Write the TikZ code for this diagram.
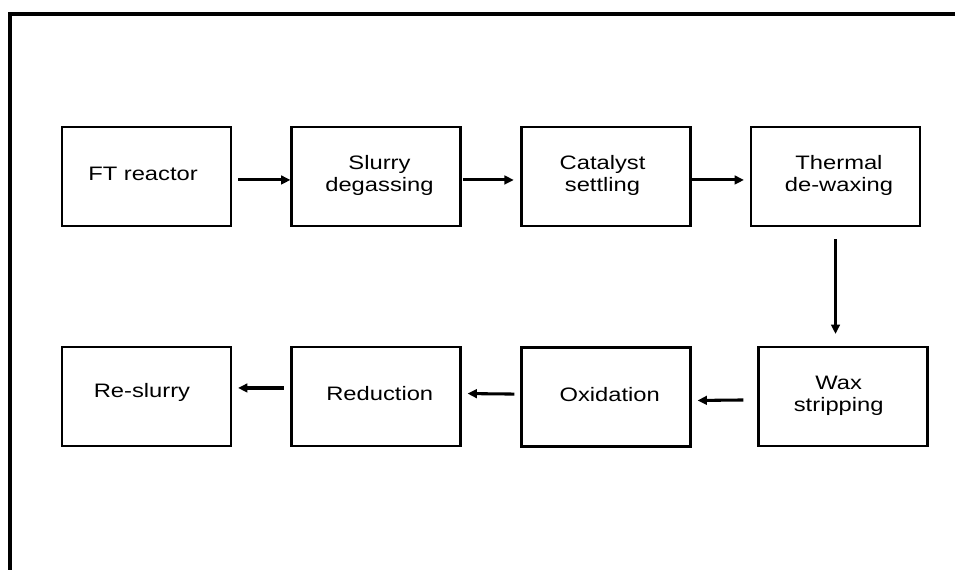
\documentclass[tikz,border=0pt]{standalone}
\usepackage{fontspec}
\setmainfont{Liberation Sans}[FakeStretch=1.22]
\usetikzlibrary{arrows.meta}
\newcommand{\bt}[3]{\kern#1\raisebox{#2}{\begin{tabular}{@{}c@{}}#3\end{tabular}}}
\begin{document}
\begin{tikzpicture}[x=0.75pt,y=-0.75pt,
  box/.style={draw,line width=1.6pt,minimum width=126.75pt,minimum height=74.25pt,inner sep=0pt,
    font=\fontsize{14.6pt}{16.3pt}\selectfont},
  arr/.style={line width=2.3pt,-{Triangle[length=7pt,width=6.5pt]}},
  frame/.style={line width=3pt}]
\useasboundingbox (0,0) rectangle (955,570);
\coordinate (fa) at (10,570);
\coordinate (fb) at (10,14);
\coordinate (fc) at (955,14);
\draw[frame] (fa) -- (fb) -- (fc);
\node[box] (ft) at (146.5,176.5) {\bt{-5.2pt}{2.6pt}{FT reactor}};
\node[box] (sl) at (376,176.5) {\bt{5.2pt}{3pt}{Slurry\\degassing}};
\node[box] (ca) at (606,176.5) {\bt{-5.2pt}{-0.5pt}{Catalyst\\settling}};
\node[box] (th) at (835.5,176.5) {\bt{5.2pt}{-0.5pt}{Thermal\\de-waxing}};
\node[box] (wx) at (843,396.5) {\bt{-6.4pt}{-0.5pt}{Wax\\stripping}};
\node[box] (ox) at (606,397) {\bt{5.6pt}{-0.5pt}{Oxidation}};
\node[box] (rd) at (376,396.5) {\bt{5.6pt}{3.3pt}{Reduction}};
\node[box] (rs) at (146.5,396.5) {\bt{-6.8pt}{9.3pt}{Re-slurry}};
\draw[arr] ([xshift=4.5pt,yshift=-2.6pt]ft.east) -- ([yshift=-2.6pt]sl.west);
\draw[arr] ([xshift=1pt,yshift=-2.6pt]sl.east) -- ([xshift=-5pt,yshift=-2.6pt]ca.west);
\draw[arr] ([xshift=0pt,yshift=-2.6pt]ca.east) -- ([xshift=-4.5pt,yshift=-2.6pt]th.west);
\draw[arr,line width=2.8pt] ([yshift=-9pt]th.south) -- ([yshift=9pt]th.south |- wx.north);
\draw[arr] ([xshift=-10.5pt,yshift=-2.6pt]wx.west) -- ([xshift=4.5pt,yshift=-2.6pt]ox.east);
\draw[arr] ([xshift=-4.5pt,yshift=2.2pt]ox.west) -- ([xshift=4.5pt,yshift=2.2pt]rd.east);
\draw[arr] ([xshift=-5.2pt,yshift=6.4pt]rd.west) -- ([xshift=4.5pt,yshift=6.4pt]rs.east);
\end{tikzpicture}
\end{document}
